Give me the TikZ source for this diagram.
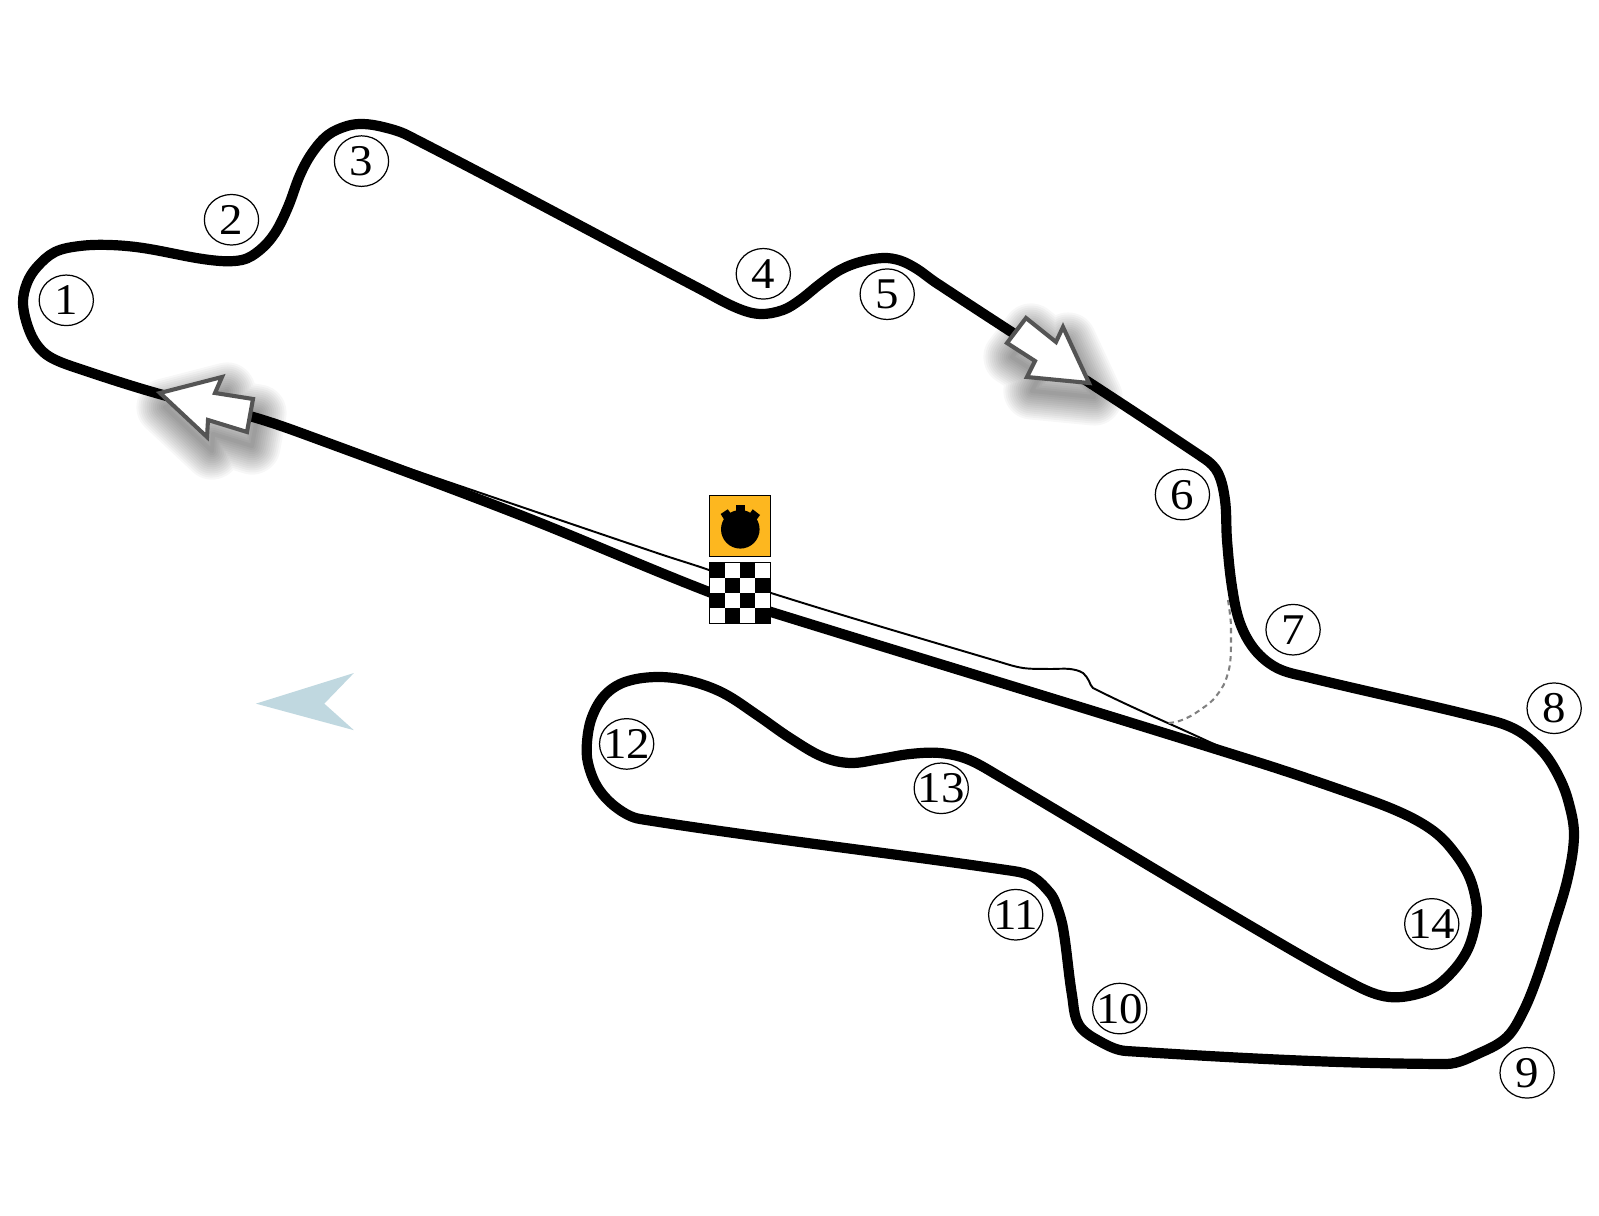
\documentclass[tikz,border=0pt]{standalone}
\usepackage{fontspec}
\usetikzlibrary{shapes.geometric}
\setmainfont[FakeStretch=1.07]{Liberation Serif}
\definecolor{marker}{HTML}{C0D8E0}
\definecolor{timing}{RGB}{253,183,31}
% curve through points: chord-scaled tangents, so long straights stay straight
% #1 result macro, #2 points x, #3 points y, #4 number of points, #5 1 = open, 0 = closed
\newcommand{\buildcurve}[5]{%
  \def\tkX{{#2}}\def\tkY{{#3}}%
  \pgfmathtruncatemacro\tkLast{#4-1-#5}%
  \gdef#1{}%
  \foreach \i in {0,...,\tkLast} {%
    \pgfmathtruncatemacro\ia{#5==1 ? max(\i-1,0) : mod(\i-1+#4,#4)}%
    \pgfmathtruncatemacro\ib{mod(\i+1,#4)}%
    \pgfmathtruncatemacro\ic{#5==1 ? min(\i+2,#4-1) : mod(\i+2,#4)}%
    \pgfmathsetmacro\xa{\tkX[\ia]}\pgfmathsetmacro\ya{\tkY[\ia]}%
    \pgfmathsetmacro\xo{\tkX[\i]}\pgfmathsetmacro\yo{\tkY[\i]}%
    \pgfmathsetmacro\xb{\tkX[\ib]}\pgfmathsetmacro\yb{\tkY[\ib]}%
    \pgfmathsetmacro\xc{\tkX[\ic]}\pgfmathsetmacro\yc{\tkY[\ic]}%
    \pgfmathsetmacro\dd{veclen(\xb-\xo,\yb-\yo)/3}%
    \pgfmathsetmacro\la{veclen(\xb-\xa,\yb-\ya)}%
    \pgfmathsetmacro\lb{veclen(\xc-\xo,\yc-\yo)}%
    \pgfmathsetmacro\cax{\xo+(\xb-\xa)/\la*\dd}%
    \pgfmathsetmacro\cay{\yo+(\yb-\ya)/\la*\dd}%
    \pgfmathsetmacro\cbx{\xb-(\xc-\xo)/\lb*\dd}%
    \pgfmathsetmacro\cby{\yb-(\yc-\yo)/\lb*\dd}%
    \xdef#1{#1 .. controls (\cax,\cay) and (\cbx,\cby) .. (\xb,\yb)}%
  }%
}
\newcommand{\turnnum}[1]{\raisebox{-0.33em}[0pt][0pt]{\makebox[0pt]{#1}}}
\begin{document}
\begin{tikzpicture}[x=0.5pt,y=-0.5pt,
  turn/.style={draw=black,ellipse,line width=0.6pt,minimum width=26.6pt,minimum height=24.8pt,inner sep=0pt,font=\fontsize{21.5}{24}\selectfont},
  track/.style={draw=black,line width=5pt,line join=round},
  pit/.style={draw=black,line width=0.95pt},
  dirarrow/.style={draw=black!67,fill=white,line width=2pt,line join=miter},
  fullsize/.style={scale=0.98061}]
\useasboundingbox (0,0) rectangle (1568,1192);
\fill[white] (0,0) rectangle (1568,1192);
\fill[marker] (251,690) -- (347,660) -- (318,690) -- (347,716) -- cycle;
\buildcurve{\pitpath}
 {372,660,709,771,1000,1023,1050,1070,1083,1089,1093,1203,1225}
 {456,554,570,593,662,668,669,669,673,681,688,739,749}{13}{1}
\buildcurve{\trackpath}
 {163,77,50,37,28,23,27,37,55,80,110,143,210,242,260,275,288,300,312,328,347,363,383,407,700,737,760,783,800,820,840,860,883,900,917,935,1205,1218,1225,1227,1232,1240,1255,1277,1307,1493,1520,1543,1558,1568,1574,1568,1553,1537,1523,1507,1482,1446,1126,1101,1079,1072,1063,1056,1050,1033,1013,640,617,598,588,587,592,605,625,657,690,723,757,790,823,850,880,910,940,967,997,1254,1357,1389,1421,1443,1466,1476,1476,1468,1450,1432,1404,1361,1254,771,709,520,320,253}
 {395,368,357,345,327,303,283,267,252,246,245,248,260,260,250,233,207,175,153,135,126,124,127,135,289,308,314,310,300,284,270,262,258,260.5,269,282,459,473,500,540,587,623,650,668,677,721,732,752,775,800,834,877,928,978,1012,1037,1052,1064,1051,1042,1025,995,928,904,893,877,871,819,808,788,763,742,717,695,682,677,681,693,715,738,757,763,759,754,753,759,775,928,986,997,993,981,953,921,901,874,847,830,814,797,761,612,592,515,440,417}{106}{0}
\begin{scope}[fullsize]
% pit lane
\draw[pit] (372,456) \pitpath;
% dashed link
\draw[draw=black!50,line width=1pt,dash pattern=on 2.6pt off 2pt] plot[smooth,tension=0.8] coordinates {(1228,600) (1231,625) (1231,647) (1228,673) (1217,695) (1200,710) (1182,720) (1168,723)};
% track
\draw[track] (163,395) \trackpath -- cycle;
% direction arrows
\foreach \w in {4,8,...,56} {
  \draw[black,opacity=0.032,line width=\w*0.5pt,line join=round,shift={(5,14)}] (1026,318) -- (1007,343) -- (1035,361) -- (1027,377) -- (1089,383) -- (1063,327) -- (1056,342) -- cycle;
  \draw[black,opacity=0.032,line width=\w*0.5pt,line join=round,shift={(5,14)}] (160,393) -- (222,377) -- (215,393) -- (253,399) -- (247,432) -- (208,420) -- (207,437) -- cycle;
}
\path[dirarrow] (1026,318) -- (1007,343) -- (1035,361) -- (1027,377) -- (1089,383) -- (1063,327) -- (1056,342) -- cycle;
\path[dirarrow] (160,393) -- (222,377) -- (215,393) -- (253,399) -- (247,432) -- (208,420) -- (207,437) -- cycle;
% timing box
\filldraw[fill=timing,draw=black,line width=0.5pt] (709.5,495.5) rectangle (770.5,556.5);
\fill[black] (740.3,529.3) circle[radius=19.3];
\fill[black] (736,505) rectangle (744.7,515);
\fill[black] (720.7,514) -- (727.7,509.3) -- (733,516) -- (725,521) -- cycle;
\fill[black] (752.7,509.3) -- (760,515) -- (755.7,521) -- (748,516) -- cycle;
% chequered flag
\fill[white] (709.5,562.5) rectangle (770.5,623.5);
\foreach \r in {0,1,2,3} \foreach \c in {0,1,2,3} {
  \pgfmathparse{int(mod(\r+\c,2))}
  \ifnum\pgfmathresult=0
    \fill[black] ({709.5+\c*15.25},{562.5+\r*15.25}) rectangle ++(15.25,15.25);
  \fi
}
\draw[black,line width=0.5pt] (709.5,562.5) rectangle (770.5,623.5);
\end{scope}
% corner numbers
\node[turn] (t1) at (65,294.5) {\turnnum{1}};
\node[turn] (t2) at (227,215.5) {\turnnum{2}};
\node[turn] (t3) at (354.5,158) {\turnnum{3}};
\node[turn] (t4) at (748.5,268.5) {\turnnum{4}};
\node[turn] (t5) at (870,288.5) {\turnnum{5}};
\node[turn] (t6) at (1159.5,485) {\turnnum{6}};
\node[turn] (t7) at (1268,617.5) {\turnnum{7}};
\node[turn] (t8) at (1524,694.5) {\turnnum{8}};
\node[turn] (t9) at (1497.5,1052) {\turnnum{9}};
\node[turn] (t10) at (1098,989) {\turnnum{10}};
\node[turn] (t11) at (996,897) {\turnnum{11}};
\node[turn] (t12) at (614.5,729.5) {\turnnum{12}};
\node[turn] (t13) at (923,773) {\turnnum{13}};
\node[turn] (t14) at (1404,906) {\turnnum{14}};
\end{tikzpicture}
\end{document}
